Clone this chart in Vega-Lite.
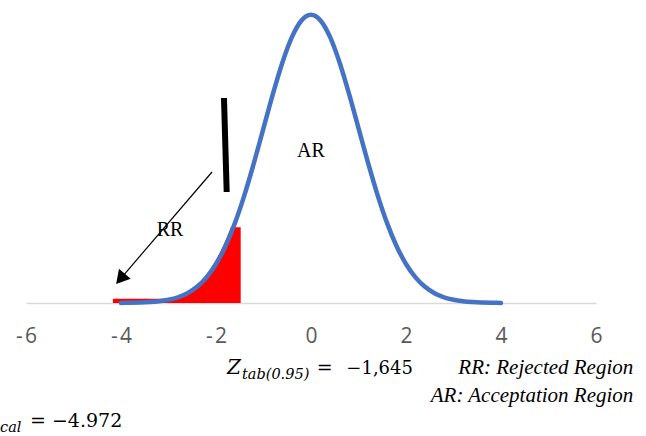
{
  "$schema": "https://vega.github.io/schema/vega-lite/v6.json",
  "width": 570,
  "height": 289,
  "autosize": {"type": "none"},
  "padding": {"left": 26, "top": 14, "right": 50, "bottom": 133},
  "config": {"view": {"stroke": null}},
  "datasets": {
    "curve": [
      {"x": -4.0, "y": 0.00013}, {"x": -3.8, "y": 0.00029}, {"x": -3.6, "y": 0.00061},
      {"x": -3.4, "y": 0.00123}, {"x": -3.2, "y": 0.00238}, {"x": -3.0, "y": 0.00443},
      {"x": -2.8, "y": 0.00792}, {"x": -2.6, "y": 0.01358}, {"x": -2.4, "y": 0.02239},
      {"x": -2.2, "y": 0.03547}, {"x": -2.0, "y": 0.05399}, {"x": -1.8, "y": 0.07895},
      {"x": -1.6, "y": 0.11092}, {"x": -1.4, "y": 0.14973}, {"x": -1.2, "y": 0.19419},
      {"x": -1.0, "y": 0.24197}, {"x": -0.8, "y": 0.28969}, {"x": -0.6, "y": 0.33322},
      {"x": -0.4, "y": 0.36827}, {"x": -0.2, "y": 0.39104}, {"x": 0.0, "y": 0.39894},
      {"x": 0.2, "y": 0.39104}, {"x": 0.4, "y": 0.36827}, {"x": 0.6, "y": 0.33322},
      {"x": 0.8, "y": 0.28969}, {"x": 1.0, "y": 0.24197}, {"x": 1.2, "y": 0.19419},
      {"x": 1.4, "y": 0.14973}, {"x": 1.6, "y": 0.11092}, {"x": 1.8, "y": 0.07895},
      {"x": 2.0, "y": 0.05399}, {"x": 2.2, "y": 0.03547}, {"x": 2.4, "y": 0.02239},
      {"x": 2.6, "y": 0.01358}, {"x": 2.8, "y": 0.00792}, {"x": 3.0, "y": 0.00443},
      {"x": 3.2, "y": 0.00238}, {"x": 3.4, "y": 0.00123}, {"x": 3.6, "y": 0.00061},
      {"x": 3.8, "y": 0.00029}, {"x": 4.0, "y": 0.00013}
    ],
    "rejection": [
      {"x": -4.17, "y": 0.006}, {"x": -2.95, "y": 0.006}, {"x": -2.9, "y": 0.0069},
      {"x": -2.8, "y": 0.0091}, {"x": -2.7, "y": 0.0119}, {"x": -2.6, "y": 0.0155},
      {"x": -2.5, "y": 0.0198}, {"x": -2.4, "y": 0.0252}, {"x": -2.3, "y": 0.0317},
      {"x": -2.2, "y": 0.0396}, {"x": -2.1, "y": 0.0488}, {"x": -2.0, "y": 0.0596},
      {"x": -1.9, "y": 0.0721}, {"x": -1.8, "y": 0.0863}, {"x": -1.7, "y": 0.1023},
      {"x": -1.69, "y": 0.105}, {"x": -1.48, "y": 0.105}
    ],
    "segments": [
      {"id": "critical", "x": -1.832, "y": 0.2837, "x2": -1.775, "y2": 0.1536},
      {"id": "arrow", "x": -2.084, "y": 0.1813, "x2": -4.011, "y2": 0.0335}
    ],
    "heads": [{"x": -4.011, "y": 0.0335}],
    "notes": [
      {"id": "ar", "x": 0.0, "y": 0.2017, "label": "AR"},
      {"id": "rr", "x": -2.968, "y": 0.0927, "label": "RR"},
      {"id": "z", "x": -1.768, "y": -0.0983, "label": "Z"},
      {"id": "sub", "x": -1.453, "y": -0.1045, "label": "tab(0.95)"},
      {"id": "eq", "x": 0.12, "y": -0.0983, "label": "="},
      {"id": "num", "x": 2.147, "y": -0.0983, "label": "−1,645"},
      {"id": "leg1", "x": 6.785, "y": -0.0985, "label": "RR: Rejected Region"},
      {"id": "leg2", "x": 6.785, "y": -0.1368, "label": "AR: Acceptation Region"},
      {"id": "cal", "x": -6.547, "y": -0.1785, "label": "cal"},
      {"id": "calv", "x": -5.916, "y": -0.1712, "label": "= −4.972"}
    ]
  },
  "layer": [
    {
      "data": {"name": "rejection"},
      "mark": {"type": "area", "color": "#FF0000", "interpolate": "linear"},
      "encoding": {
        "x": {"field": "x", "type": "quantitative", "scale": {"domain": [-6, 6], "nice": false},
          "axis": {"values": [-6, -4, -2, 0, 2, 4, 6], "title": null, "grid": false, "ticks": false,
            "domainColor": "#d9d9d9", "domainWidth": 1.5, "labelFont": "Open Sans", "labelFontSize": 21,
            "labelColor": "#595959", "labelPadding": 22, "labelFlush": false, "labelOverlap": false,
            "labelExpr": "datum.value < 0 ? '-\u200a' + abs(datum.value) : '' + datum.value"}},
        "y": {"field": "y", "type": "quantitative", "scale": {"domain": [0, 0.4], "nice": false}, "axis": null}
      }
    },
    {
      "data": {"name": "curve"},
      "mark": {"type": "line", "color": "#4472C4", "strokeWidth": 4.5, "interpolate": "monotone", "strokeCap": "round"},
      "encoding": {
        "x": {"field": "x", "type": "quantitative"},
        "y": {"field": "y", "type": "quantitative"}
      }
    },
    {
      "data": {"name": "segments"},
      "transform": [{"filter": "datum.id === 'critical'"}],
      "mark": {"type": "rule", "color": "#000000", "strokeWidth": 6},
      "encoding": {
        "x": {"field": "x", "type": "quantitative"},
        "y": {"field": "y", "type": "quantitative"},
        "x2": {"field": "x2"},
        "y2": {"field": "y2"}
      }
    },
    {
      "data": {"name": "notes"},
      "transform": [{"filter": "datum.id === 'ar' || datum.id === 'rr'"}],
      "mark": {"type": "text", "font": "Liberation Serif", "fontSize": 20, "color": "#000000", "align": "center", "baseline": "alphabetic"},
      "encoding": {
        "x": {"field": "x", "type": "quantitative"},
        "y": {"field": "y", "type": "quantitative"},
        "text": {"field": "label"}
      }
    },
    {
      "data": {"name": "segments"},
      "transform": [{"filter": "datum.id === 'arrow'"}],
      "mark": {"type": "rule", "color": "#000000", "strokeWidth": 1.2},
      "encoding": {
        "x": {"field": "x", "type": "quantitative"},
        "y": {"field": "y", "type": "quantitative"},
        "x2": {"field": "x2"},
        "y2": {"field": "y2"}
      }
    },
    {
      "data": {"name": "heads"},
      "mark": {"type": "point", "shape": "triangle-up", "filled": true, "color": "#000000", "opacity": 1, "size": 240, "angle": 220.6},
      "encoding": {
        "x": {"field": "x", "type": "quantitative"},
        "y": {"field": "y", "type": "quantitative"}
      }
    },
    {
      "data": {"name": "notes"},
      "transform": [{"filter": "datum.id === 'z'"}],
      "mark": {"type": "text", "font": "DejaVu Serif", "fontStyle": "italic", "fontSize": 20, "color": "#000000", "align": "left", "baseline": "alphabetic"},
      "encoding": {
        "x": {"field": "x", "type": "quantitative"},
        "y": {"field": "y", "type": "quantitative"},
        "text": {"field": "label"}
      }
    },
    {
      "data": {"name": "notes"},
      "transform": [{"filter": "datum.id === 'sub' || datum.id === 'cal'"}],
      "mark": {"type": "text", "font": "DejaVu Serif", "fontStyle": "italic", "fontSize": 14.5, "color": "#000000", "align": "left", "baseline": "alphabetic"},
      "encoding": {
        "x": {"field": "x", "type": "quantitative"},
        "y": {"field": "y", "type": "quantitative"},
        "text": {"field": "label"}
      }
    },
    {
      "data": {"name": "notes"},
      "transform": [{"filter": "datum.id === 'eq' || datum.id === 'calv'"}],
      "mark": {"type": "text", "font": "DejaVu Serif", "fontSize": 19, "color": "#000000", "align": "left", "baseline": "alphabetic"},
      "encoding": {
        "x": {"field": "x", "type": "quantitative"},
        "y": {"field": "y", "type": "quantitative"},
        "text": {"field": "label"}
      }
    },
    {
      "data": {"name": "notes"},
      "transform": [{"filter": "datum.id === 'num'"}],
      "mark": {"type": "text", "font": "DejaVu Serif", "fontSize": 18, "color": "#000000", "align": "right", "baseline": "alphabetic"},
      "encoding": {
        "x": {"field": "x", "type": "quantitative"},
        "y": {"field": "y", "type": "quantitative"},
        "text": {"field": "label"}
      }
    },
    {
      "data": {"name": "notes"},
      "transform": [{"filter": "datum.id === 'leg1' || datum.id === 'leg2'"}],
      "mark": {"type": "text", "font": "Liberation Serif", "fontStyle": "italic", "fontSize": 21, "color": "#000000", "align": "right", "baseline": "alphabetic"},
      "encoding": {
        "x": {"field": "x", "type": "quantitative"},
        "y": {"field": "y", "type": "quantitative"},
        "text": {"field": "label"}
      }
    }
  ]
}
